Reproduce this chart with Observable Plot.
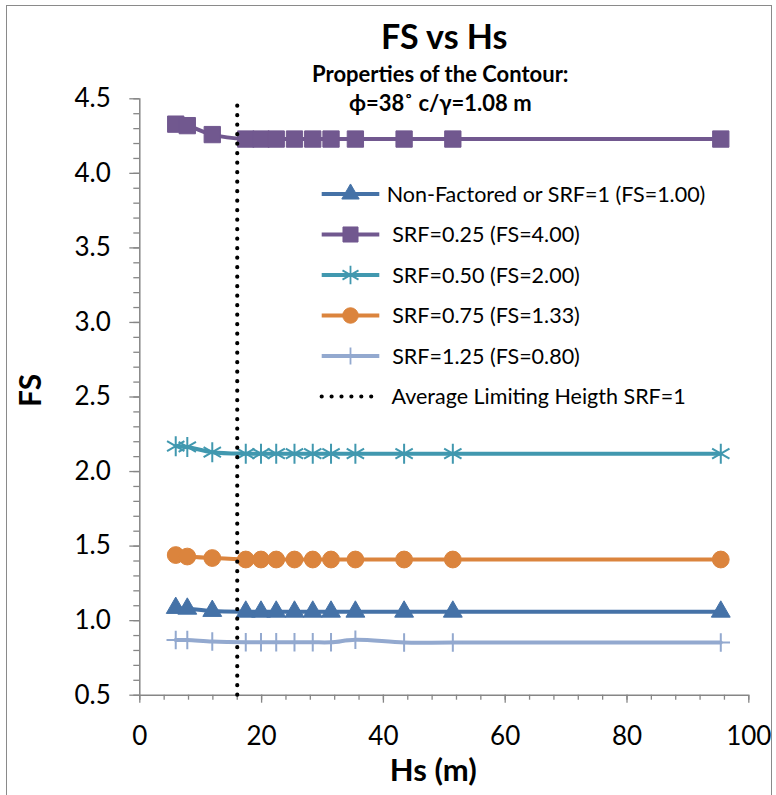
<!DOCTYPE html>
<html>
<head>
<meta charset="utf-8">
<script src="https://cdn.jsdelivr.net/npm/d3@7"></script>
<script src="https://cdn.jsdelivr.net/npm/@observablehq/plot@0.6"></script>
<style>
  html, body { margin: 0; padding: 0; background: #fff; }
  #chart { position: relative; width: 776px; height: 795px; overflow: hidden; font-family: Lato, sans-serif; }
  #chart > svg { position: absolute; left: 0; top: 0; }
  #frame { position: absolute; left: 6px; top: 5px; width: 766px; height: 820px; border: 1.5px solid #8a8a8a; box-sizing: border-box; pointer-events: none; }
</style>
</head>
<body>
<div id="chart"><div id="frame"></div></div>
<script>
// Slope height Hs (m) at which each factor of safety was computed
const hs = [5.9, 7.8, 11.9, 17.4, 19.9, 22.4, 25.4, 28.4, 31.4, 35.4, 43.4, 51.4, 95.4];

// FS for each strength reduction factor
const fsSrf100 = [1.085, 1.08, 1.065, 1.06, 1.06, 1.06, 1.06, 1.06, 1.06, 1.06, 1.06, 1.06, 1.06];
const fsSrf025 = [4.33, 4.32, 4.26, 4.23, 4.23, 4.23, 4.23, 4.23, 4.23, 4.23, 4.23, 4.23, 4.23];
const fsSrf050 = [2.17, 2.165, 2.13, 2.12, 2.12, 2.12, 2.12, 2.12, 2.12, 2.12, 2.12, 2.12, 2.12];
const fsSrf075 = [1.44, 1.43, 1.42, 1.41, 1.41, 1.41, 1.41, 1.41, 1.41, 1.41, 1.41, 1.41, 1.41];
const fsSrf125 = [0.87, 0.87, 0.86, 0.855, 0.855, 0.855, 0.855, 0.855, 0.855, 0.872, 0.853, 0.853, 0.853];

const seriesNames = [
  "Non-Factored or SRF=1 (FS=1.00)",
  " SRF=0.25 (FS=4.00)",
  " SRF=0.50 (FS=2.00)",
  " SRF=0.75 (FS=1.33)",
  " SRF=1.25 (FS=0.80)"
];
const seriesColors = ["#4572A7", "#71588F", "#4198AF", "#DB843D", "#93A9CF"];
const seriesSymbols = ["triangle", "square", "asterisk", "circle", "plus"];
const seriesValues = [fsSrf100, fsSrf025, fsSrf050, fsSrf075, fsSrf125];

// Average limiting height for SRF=1
const avgLimitLabel = " Average Limiting Heigth SRF=1";
const avgLimitHs = [16];

const xTicks = [0, 20, 40, 60, 80, 100];
const yTicks = [0.5, 1.0, 1.5, 2.0, 2.5, 3.0, 3.5, 4.0, 4.5];

const titleText = "FS vs Hs";
const subtitleLines = ["Properties of the Contour:", "\u03D5=38\u02DA c/\u03B3=1.08 m"];
const xLabel = "Hs (m)";
const yLabel = "FS";

const rows = seriesValues.flatMap((vals, s) =>
  vals.map((fs, i) => ({series: s, hs: hs[i], fs}))
);

const axisColor = "#868686";
const dotR = {triangle: 7, square: 9.2, asterisk: 9.5, circle: 8.4, plus: 6};

const seriesMarks = seriesNames.flatMap((name, s) => {
  const d = rows.filter(r => r.series === s);
  const sym = seriesSymbols[s];
  const stroked = sym === "asterisk" || sym === "plus";
  return [
    Plot.line(d, {x: "hs", y: "fs", stroke: seriesColors[s], strokeWidth: 4, curve: "catmull-rom"}),
    Plot.dot(d, {
      x: "hs", y: "fs", symbol: () => sym, r: dotR[sym],
      fill: stroked ? "none" : seriesColors[s],
      stroke: seriesColors[s], strokeWidth: stroked ? 2 : 1
    })
  ];
});

const chart = Plot.plot({
  width: 776,
  height: 795,
  marginLeft: 139.3,
  marginRight: 27.7,
  marginTop: 98.3,
  marginBottom: 100.3,
  style: {fontFamily: "Lato, sans-serif", background: "transparent", color: "black"},
  x: {domain: [0, 100]},
  y: {domain: [0.5, 4.5]},
  symbol: {type: "identity"},
  marks: [
    // minor ticks
    Plot.axisX(d3.range(0, 101, 4), {tickSize: 5, stroke: axisColor, strokeWidth: 1.3, tickFormat: () => "", label: null}),
    Plot.axisY(d3.range(5, 46, 1).map(v => v / 10), {tickSize: 6, stroke: axisColor, strokeWidth: 1.3, tickFormat: () => "", label: null}),
    // major ticks and labels
    Plot.axisX(xTicks, {tickSize: 8, tickPadding: 23, stroke: axisColor, strokeWidth: 1.3, fill: "black", fontSize: 26, label: null}),
    Plot.axisY(yTicks, {tickSize: 10, tickPadding: 19, stroke: axisColor, strokeWidth: 1.3, fill: "black", fontSize: 26, tickFormat: d => d.toFixed(1), label: null}),
    Plot.ruleY([0.5], {stroke: axisColor, strokeWidth: 1.5}),
    Plot.ruleX([0], {stroke: axisColor, strokeWidth: 1.5}),
    ...seriesMarks,
    Plot.ruleX(avgLimitHs, {y1: 0.5, y2: 4.5, stroke: "black", strokeWidth: 4.2, strokeDasharray: "0 9.5", strokeLinecap: "round"}),
    // titles
    Plot.text([titleText], {text: d => d, frameAnchor: "top", dy: -50, lineAnchor: "bottom", fontSize: 34, fontWeight: "bold"}),
    Plot.text([subtitleLines[0]], {text: d => d, frameAnchor: "top", dx: -4, dy: -17, lineAnchor: "bottom", fontSize: 22, fontWeight: "bold"}),
    Plot.text([subtitleLines[1]], {text: d => d, frameAnchor: "top", dx: -4, dy: 12, lineAnchor: "bottom", fontSize: 22, fontWeight: "bold"}),
    Plot.text([xLabel], {text: d => d, frameAnchor: "bottom", dx: -11, dy: 86, lineAnchor: "bottom", fontSize: 31, fontWeight: "bold"}),
    Plot.text([yLabel], {text: d => d, frameAnchor: "left", dx: -108, dy: 10, rotate: -90, lineAnchor: "middle", fontSize: 30, fontWeight: "bold"})
  ]
});

const host = document.getElementById("chart");
host.insertBefore(chart, host.firstChild);

// Legend: line swatch with the series marker, then the label
const legend = d3.select(host).append("svg")
  .attr("width", 776).attr("height", 795)
  .style("position", "absolute").style("left", 0).style("top", 0)
  .style("pointer-events", "none");

const legendRowsY = [194, 234.5, 275, 315.5, 356, 396.5];
const symbolTypes = {triangle: d3.symbolTriangle, square: d3.symbolSquare, asterisk: d3.symbolAsterisk, circle: d3.symbolCircle, plus: d3.symbolPlus};

seriesNames.forEach((name, s) => {
  const y = legendRowsY[s];
  const g = legend.append("g");
  g.append("line").attr("x1", 321.7).attr("x2", 379.3).attr("y1", y).attr("y2", y)
    .attr("stroke", seriesColors[s]).attr("stroke-width", 4);
  const sym = seriesSymbols[s];
  const r = dotR[sym];
  const stroked = sym === "asterisk" || sym === "plus";
  g.append("path")
    .attr("transform", `translate(350.5,${y})`)
    .attr("d", d3.symbol(symbolTypes[sym], Math.PI * r * r * 0.85)())
    .attr("fill", stroked ? "none" : seriesColors[s])
    .attr("stroke", seriesColors[s]).attr("stroke-width", stroked ? 1.8 : 1);
  g.append("text").attr("x", 386.7).attr("y", y + 7.5)
    .attr("font-size", 21.5).attr("font-family", "Lato, sans-serif")
    .style("white-space", "pre").text(name);
});

{
  const y = legendRowsY[5];
  legend.append("line").attr("x1", 321.7).attr("x2", 373).attr("y1", y).attr("y2", y)
    .attr("stroke", "black").attr("stroke-width", 4.2)
    .attr("stroke-dasharray", "0 9.9").attr("stroke-linecap", "round");
  legend.append("text").attr("x", 386.7).attr("y", y + 7.5)
    .attr("font-size", 21.5).attr("font-family", "Lato, sans-serif")
    .style("white-space", "pre").text(avgLimitLabel);
}
</script>
</body>
</html>
